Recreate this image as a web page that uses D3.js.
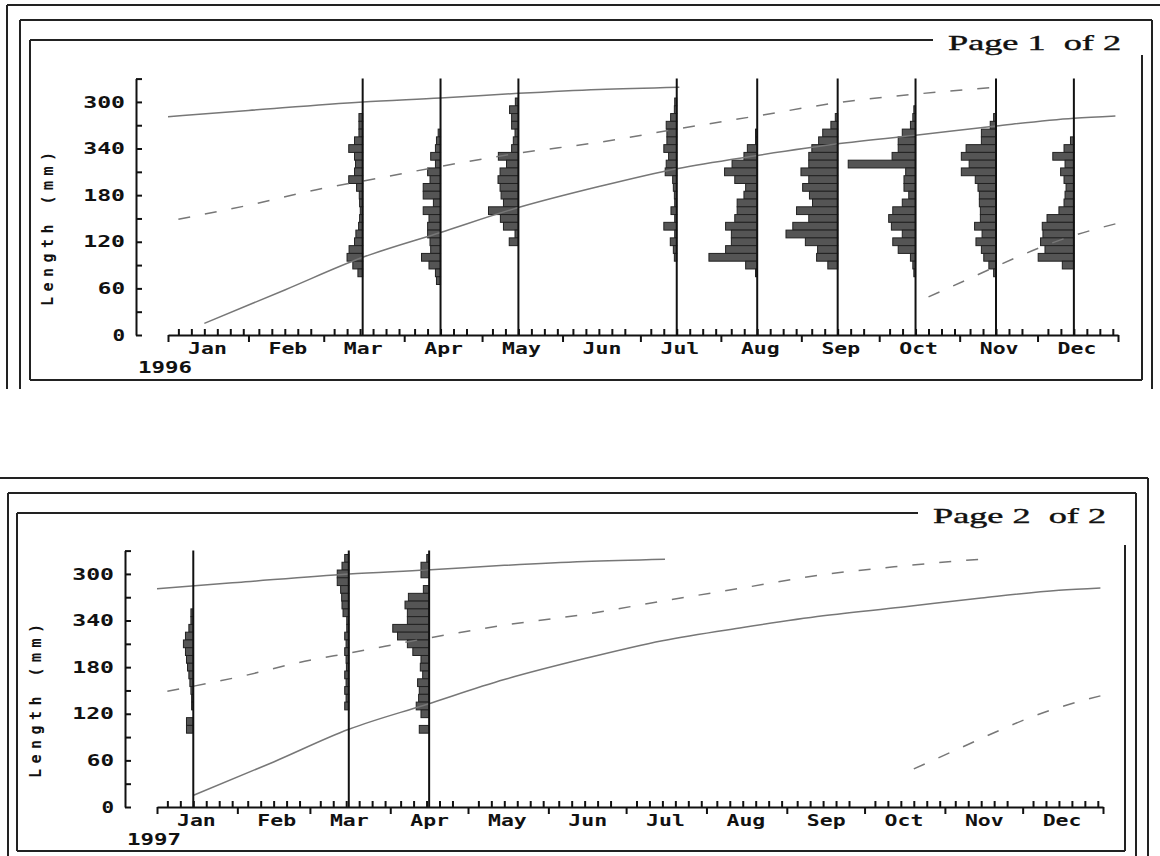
<!DOCTYPE html>
<html>
<head>
<meta charset="utf-8">
<script src="https://cdn.jsdelivr.net/npm/d3@7"></script>
<style>
  body { margin: 0; background: #fff; }
  svg { display: block; }
</style>
</head>
<body>
<script>
var width  = 1160,
    height = 856;

// ---- data ----
var monthNames = ['Jan','Feb','Mar','Apr','May','Jun','Jul','Aug','Sep','Oct','Nov','Dec'];
var yTickValues  = [0, 30, 60, 90, 120, 150, 180, 210, 240, 270, 300, 330];
var yLabelValues = [0, 60, 120, 180, 240, 300];
var yLabels      = ['0', '60', '120', '180', '340', '300'];   // as printed
var yMax = 330;

// growth curves: [month, day, length mm]
var curveTop   = [[1,1,281],[2,1,289],[3,16,300],[4,15,305],[5,15,311],[6,15,316],[7,16,319]];
var curveMid   = [[1,5,149],[2,1,167],[3,1,189],[3,16,198],[4,15,217],[5,15,234],[6,15,248],
                  [7,15,265],[8,15,282],[9,15,299],[10,15,310],[11,15,319]];
var curveLow   = [[1,15,15],[2,15,58],[3,16,100],[4,15,132],[5,15,164],[6,15,191],[7,15,214],
                  [8,15,231],[9,15,246],[10,15,257],[11,15,269],[12,15,279],[12,31,282]];
var curveYoung = [[10,20,49],[11,3,70],[11,23,100],[12,3,114],[12,23,136],[12,31,143]];

// length-frequency samples: [class mid-length mm, frequency %]
var h96Mar = [[280,1.1],[270,1.1],[260,1.1],[250,2.4],[240,4.1],[230,2.4],[220,2.1],[210,2.4],[200,4.1],
              [190,1.8],[180,1.0],[170,0.9],[160,0.7],[150,0.9],[140,1.2],[130,2.0],[120,2.4],[110,4.0],
              [100,4.6],[90,2.9],[80,1.4]];
var h96Apr = [[260,0.7],[250,1.2],[240,1.5],[230,2.9],[220,1.5],[210,3.8],[200,3.1],[190,5.1],[180,5.1],
              [170,2.1],[160,5.1],[150,3.4],[140,3.8],[130,3.8],[120,3.1],[110,2.9],[100,5.6],[90,3.4],
              [80,1.5],[70,1.2]];
var h96May = [[300,0.9],[290,2.6],[280,2.0],[270,2.0],[260,1.0],[250,1.5],[240,2.0],[230,5.9],[220,3.5],
              [210,5.4],[200,6.0],[190,5.4],[180,5.1],[170,4.4],[160,8.8],[150,5.3],[140,4.4],[130,1.0],
              [120,2.7]];
var h96Jul = [[300,0.6],[290,0.7],[280,1.8],[270,3.1],[260,2.9],[250,2.9],[240,3.8],[230,2.4],[220,3.1],
              [210,3.4],[200,1.2],[190,1.0],[180,0.7],[170,0.6],[160,1.7],[150,0.6],[140,3.8],[130,0.6],
              [120,1.9],[110,1.0],[100,0.7]];
var h96Aug = [[260,0.5],[250,0.5],[240,2.9],[230,3.9],[220,7.4],[210,9.6],[200,6.6],[190,3.4],[180,3.9],
              [170,5.9],[160,5.9],[150,6.6],[140,9.3],[130,7.6],[120,7.6],[110,9.3],[100,14.2],[90,3.4],
              [80,0.5]];
var h96Sep = [[280,0.7],[270,2.0],[260,4.4],[250,5.6],[240,7.6],[230,8.5],[220,8.5],[210,10.8],[200,8.5],
              [190,10.3],[180,8.3],[170,7.4],[160,12.1],[150,8.5],[140,13.2],[130,15.2],[120,9.5],
              [110,5.9],[100,6.2],[90,2.9]];
var h96Oct = [[290,0.5],[280,0.8],[270,1.5],[260,3.9],[250,5.1],[240,5.1],[230,6.9],[220,19.8],[210,2.9],
              [200,3.4],[190,3.4],[180,2.0],[170,3.9],[160,6.7],[150,7.9],[140,7.1],[130,3.9],[120,6.7],
              [110,5.1],[100,1.5],[90,0.8],[80,0.5]];
var h96Nov = [[280,0.7],[270,1.7],[260,4.3],[250,4.3],[240,8.8],[230,10.2],[220,7.9],[210,10.2],[200,6.1],
              [190,5.3],[180,4.9],[170,4.9],[160,4.6],[150,4.6],[140,6.3],[130,4.1],[120,5.9],[110,4.3],
              [100,3.6],[90,2.1],[80,0.7]];
var h96Dec = [[250,1.0],[240,2.9],[230,6.2],[220,2.6],[210,3.9],[200,2.9],[190,2.3],[180,2.6],[170,2.9],
              [160,4.4],[150,7.9],[140,9.3],[130,9.1],[120,9.8],[110,8.5],[100,10.5],[90,3.4]];
var h97Jan = [[250,0.7],[240,0.7],[230,1.3],[220,2.3],[210,2.9],[200,2.3],[190,2.0],[180,1.7],[170,1.3],
              [160,1.0],[150,0.7],[140,0.5],[130,0.5],[110,2.0],[100,2.0]];
var h97Mar = [[320,1.2],[310,2.0],[300,3.4],[290,3.4],[280,2.4],[270,2.1],[260,2.0],[250,1.7],[240,0.6],
              [230,0.6],[220,1.2],[210,0.8],[200,1.2],[190,0.8],[180,0.7],[170,1.2],[160,0.8],[150,1.2],
              [140,0.8],[130,1.2]];
var h97Apr = [[320,0.7],[310,2.4],[300,2.4],[280,1.7],[270,6.1],[260,7.1],[250,6.4],[240,6.4],[230,10.7],
              [220,9.3],[210,6.4],[200,4.8],[190,2.4],[180,2.6],[170,1.9],[160,3.4],[150,2.9],[140,3.1],
              [130,3.8],[120,2.4],[100,2.9]];

var samples1996 = [
  {month: 3,  day: 16, bins: h96Mar},
  {month: 4,  day: 15, bins: h96Apr},
  {month: 5,  day: 15, bins: h96May},
  {month: 7,  day: 15, bins: h96Jul},
  {month: 8,  day: 15, bins: h96Aug},
  {month: 9,  day: 15, bins: h96Sep},
  {month: 10, day: 15, bins: h96Oct},
  {month: 11, day: 15, bins: h96Nov},
  {month: 12, day: 15, bins: h96Dec}
];
var samples1997 = [
  {month: 1, day: 15, bins: h97Jan},
  {month: 3, day: 16, bins: h97Mar},
  {month: 4, day: 16, bins: h97Apr}
];

// ---- layout ----
var panels = [
  { year: 1996, page: 'Page 1  of 2', samples: samples1996,
    x0: 168, x1: 1118, y0: 335, yAxisX: 136,
    titleX: 948, titleY: 50, yTitleX: 48, yTitleY: 229,
    frame: [[7,5,1160,5],[7,5,7,389],
            [20,20,1152,20],[20,20,20,389],[1152,20,1152,389],
            [30,40,933,40],[30,40,30,380],[30,380,1142,380],[1142,55,1142,380]] },
  { year: 1997, page: 'Page 2  of 2', samples: samples1997,
    x0: 157, x1: 1103, y0: 807, yAxisX: 125,
    titleX: 933, titleY: 523, yTitleX: 36, yTitleY: 701,
    frame: [[0,478,1148,478],[1148,478,1148,856],
            [8,493,1136,493],[8,493,8,856],[1136,493,1136,856],
            [17,513,918,513],[17,513,17,851],[17,851,1125,851],[1125,545,1125,851]] }
];

var monoFont  = '"DejaVu Sans Mono", "Liberation Mono", monospace';
var serifFont = '"Liberation Serif", "DejaVu Serif", serif';

var svg = d3.select('body').append('svg')
    .attr('width', width)
    .attr('height', height);

svg.append('rect')
    .attr('width', width)
    .attr('height', height)
    .attr('fill', '#fff');

panels.forEach(drawPanel);

function stretch(sel, perChar) {
  sel.each(function() {
    var n = this.textContent.length;
    if (n) {
      d3.select(this)
          .attr('textLength', n * perChar - 2)
          .attr('lengthAdjust', 'spacingAndGlyphs');
    }
  });
}

function drawPanel(p) {
  var g = svg.append('g');
  var date = function(m, d) { return new Date(Date.UTC(p.year, m - 1, d)); };

  var x = d3.scaleUtc()
      .domain([date(1, 1), new Date(Date.UTC(p.year + 1, 0, 1))])
      .range([p.x0, p.x1]);
  var y = d3.scaleLinear()
      .domain([0, yMax])
      .range([p.y0, p.y0 - 256.4]);
  var f = d3.scaleLinear()
      .domain([0, 20])
      .range([0, 68]);

  // frame
  g.selectAll('line.frame')
    .data(p.frame)
    .enter().append('line')
      .attr('class', 'frame')
      .attr('x1', function(d) {return d[0];})
      .attr('y1', function(d) {return d[1];})
      .attr('x2', function(d) {return d[2];})
      .attr('y2', function(d) {return d[3];})
      .attr('stroke', '#222')
      .attr('stroke-width', 2);

  g.append('text')
      .attr('x', p.titleX)
      .attr('y', p.titleY)
      .attr('textLength', 173)
      .attr('lengthAdjust', 'spacingAndGlyphs')
      .style('white-space', 'pre')
      .attr('font-family', serifFont)
      .attr('font-size', 22)
      .attr('stroke', '#111')
      .attr('stroke-width', 0.4)
      .attr('fill', '#111')
      .text(p.page);

  // y axis
  var yAxis = g.append('g')
      .attr('transform', 'translate(' + p.yAxisX + ',0)')
      .call(d3.axisLeft(y)
        .tickValues(yTickValues)
        .tickSizeInner(-6)
        .tickSizeOuter(0)
        .tickPadding(11)
        .tickFormat(function(d) {
          var i = yLabelValues.indexOf(d);
          return i < 0 ? '' : yLabels[i];
        }));
  yAxis.selectAll('path, line').attr('stroke', '#111').attr('stroke-width', 2);
  yAxis.selectAll('text')
      .attr('font-family', monoFont)
      .attr('font-weight', 'bold')
      .attr('font-size', 16)
      .attr('fill', '#111')
      .call(stretch, 14.6);

  g.append('text')
      .attr('transform', 'translate(' + p.yTitleX + ',' + p.yTitleY + ') rotate(-90)')
      .attr('text-anchor', 'middle')
      .attr('dy', '0.35em')
      .attr('textLength', 154)
      .attr('lengthAdjust', 'spacing')
      .attr('font-family', monoFont)
      .attr('font-weight', 'bold')
      .attr('font-size', 15)
      .attr('fill', '#111')
      .text('Length (mm)');

  // x axis: minor ticks up, month boundaries down, names centred
  var monthStarts = d3.utcMonth.range(date(1, 1), new Date(Date.UTC(p.year + 1, 0, 2)));
  var minor = [];
  monthStarts.slice(0, 12).forEach(function(m) {
    var len = d3.utcDay.count(m, d3.utcMonth.offset(m, 1));
    [4, 9, 14, 19, 24, 29].forEach(function(k) {
      if (k < len - 1) minor.push(d3.utcDay.offset(m, k));
    });
  });
  var mids = monthStarts.slice(0, 12).map(function(m) { return d3.utcDay.offset(m, 15); });

  var xMinor = g.append('g')
      .attr('transform', 'translate(0,' + p.y0 + ')')
      .call(d3.axisBottom(x).tickValues(minor).tickSizeInner(-6).tickSizeOuter(0).tickFormat(''));
  var xMajor = g.append('g')
      .attr('transform', 'translate(0,' + p.y0 + ')')
      .call(d3.axisBottom(x).tickValues(monthStarts).tickSizeInner(7).tickSizeOuter(0).tickFormat(''));
  xMajor.select('.domain').remove();
  [xMinor, xMajor].forEach(function(a) {
    a.selectAll('path, line').attr('stroke', '#111').attr('stroke-width', 2);
  });

  var xNames = g.append('g')
      .attr('transform', 'translate(0,' + p.y0 + ')')
      .call(d3.axisBottom(x).tickValues(mids).tickSize(0).tickPadding(8)
        .tickFormat(function(d) { return monthNames[d.getUTCMonth()]; }));
  xNames.select('.domain').remove();
  xNames.selectAll('text')
      .attr('font-family', monoFont)
      .attr('font-weight', 'bold')
      .attr('font-size', 16)
      .attr('fill', '#111')
      .call(stretch, 13.6);

  g.append('text')
      .attr('x', p.x0 - 30)
      .attr('y', p.y0 + 38)
      .attr('font-family', monoFont)
      .attr('font-weight', 'bold')
      .attr('font-size', 16)
      .attr('fill', '#111')
      .text(String(p.year))
      .call(stretch, 14);

  // histograms
  var hg = g.append('g');
  p.samples.forEach(function(s) {
    var sx = x(date(s.month, s.day));
    hg.selectAll(null)
      .data(s.bins)
      .enter().append('rect')
        .attr('x', function(d) {return sx - f(d[1]);})
        .attr('y', function(d) {return y(d[0] + 5);})
        .attr('width', function(d) {return f(d[1]);})
        .attr('height', function(d) {return y(d[0] - 5) - y(d[0] + 5);})
        .attr('fill', '#555')
        .attr('stroke', '#222')
        .attr('stroke-width', 1);
  });

  // growth curves
  var line = d3.line()
      .x(function(d) {return x(date(d[0], d[1]));})
      .y(function(d) {return y(d[2]);})
      .curve(d3.curveMonotoneX);

  [[curveTop, null], [curveMid, '12,15'], [curveLow, null], [curveYoung, '12,15']].forEach(function(c) {
    g.append('path')
        .attr('d', line(c[0]))
        .attr('fill', 'none')
        .attr('stroke', '#777')
        .attr('stroke-width', 1.5)
        .attr('stroke-dasharray', c[1]);
  });

  // sample date lines
  g.selectAll('line.sample')
    .data(p.samples)
    .enter().append('line')
      .attr('class', 'sample')
      .attr('x1', function(d) {return x(date(d.month, d.day));})
      .attr('x2', function(d) {return x(date(d.month, d.day));})
      .attr('y1', y(yMax))
      .attr('y2', y(0))
      .attr('stroke', '#111')
      .attr('stroke-width', 2);
}
</script>
</body>
</html>
